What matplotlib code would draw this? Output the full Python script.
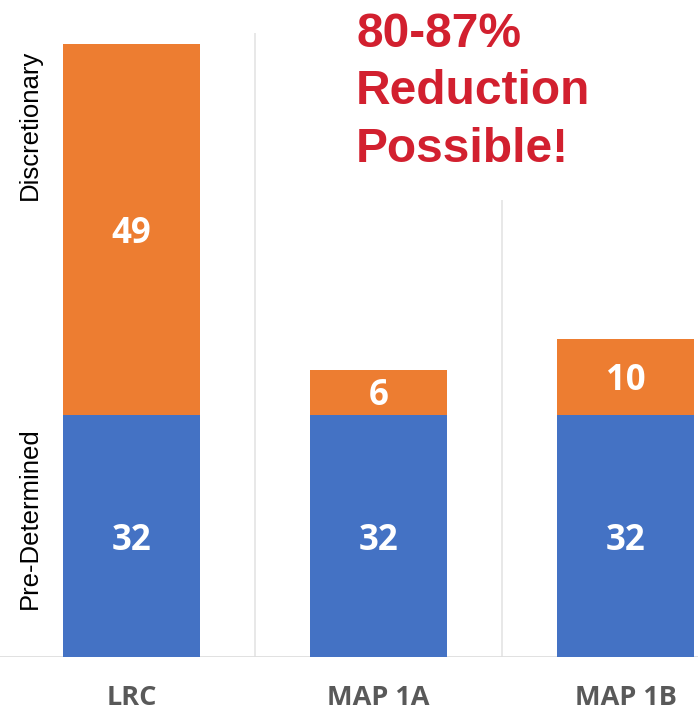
import matplotlib
matplotlib.use("Agg")
import matplotlib.pyplot as plt
from matplotlib.patches import Rectangle

categories = ["LRC", "MAP 1A", "MAP 1B"]
predetermined = [32, 32, 32]
discretionary = [49, 6, 10]

W, H = 698, 711
fig = plt.figure(figsize=(W / 100, H / 100), dpi=100)
fig.patch.set_facecolor("white")

def fx(p):
    return p / W

def fy(p):
    return 1 - p / H

ax_top, ax_bot = 33, 657
ax = fig.add_axes([0, fy(ax_bot), 1, (ax_bot - ax_top) / H])
ax.set_facecolor("white")

xs = list(range(len(categories)))
left = -131.5 / 247
right = (698 - 131.5) / 247
ax.set_xlim(left, right)
ax.set_ylim(0, 82.5)

blue = "#4472C4"
orange = "#ED7D31"
bw = 137 / 247

# separators and baseline
for g in [0.5, 1.5]:
    ax.axvline(g, color="#e4e4e4", lw=1.2, zorder=0.5)
ax.axhline(0, color="#dcdcdc", lw=1.2, zorder=0.5)

ax.bar(xs, predetermined, width=bw, color=blue, zorder=2)
ax.bar(xs, discretionary, width=bw, bottom=predetermined, color=orange, zorder=2)

vfont = dict(family=["Open Sans", "DejaVu Sans"], weight="bold", size=25, color="white")
for x, p, d in zip(xs, predetermined, discretionary):
    ax.annotate(str(p), (x, p / 2), xytext=(0, -5), textcoords="offset pixels",
                ha="center", va="center", zorder=3, **vfont)
    ax.annotate(str(d), (x, p + d / 2), xytext=(0, -4), textcoords="offset pixels",
                ha="center", va="center", zorder=3, **vfont)

for s in ax.spines.values():
    s.set_visible(False)
ax.set_xticks([])
ax.set_yticks([])

# category labels
for x, c in zip(xs, categories):
    ax.text(x, (ax_bot - 705) / (ax_bot - ax_top), c, transform=ax.get_xaxis_transform(),
            ha="center", va="baseline", family=["Open Sans", "DejaVu Sans"],
            weight="bold", size=19.5, color="#595959", clip_on=False)

# white text box covering separator
rect = Rectangle((fx(343), fy(200)), fx(698 - 343), (200 - 33) / H,
                 transform=fig.transFigure, facecolor="white", edgecolor="none",
                 zorder=1, clip_on=False)
ax.add_patch(rect)

red = "#D2202F"
for txt, base in [("80-87%", 47), ("Reduction", 104), ("Possible!", 162)]:
    fig.text(fx(356), fy(base), txt, ha="left", va="baseline",
             family=["Liberation Sans", "DejaVu Sans"], weight="bold",
             size=34.5, color=red)

# side labels
for txt, cy in [("Discretionary", 125), ("Pre-Determined", 518)]:
    fig.text(fx(37), fy(cy), txt, rotation=90, rotation_mode="anchor",
             ha="center", va="baseline",
             family=["Liberation Sans", "DejaVu Sans"], size=18.5, color="black")

fig.savefig("out.png", dpi=100, facecolor="white")
